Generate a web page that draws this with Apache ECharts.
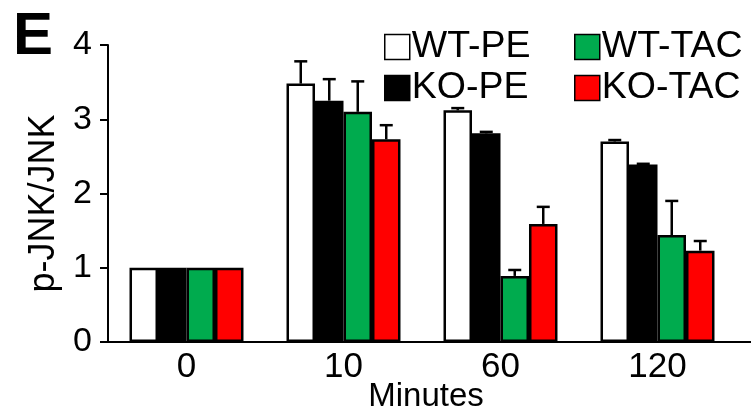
<!DOCTYPE html>
<html>
<head>
<meta charset="utf-8">
<script src="https://cdn.jsdelivr.net/npm/echarts@6/dist/echarts.min.js"></script>
<style>html,body{margin:0;padding:0;background:#fff;}#c{width:755px;height:411px;}</style>
</head>
<body>
<div id="c"></div>
<script>
var categories = ['0', '10', '60', '120'];
var seriesNames = ['WT-PE', 'KO-PE', 'WT-TAC', 'KO-TAC'];
var wtPE  = [1, 3.48, 3.12, 2.70];
var koPE  = [1, 3.25, 2.81, 2.39];
var wtTAC = [1, 3.10, 0.89, 1.44];
var koTAC = [1, 2.73, 1.59, 1.23];
var wtPEErr  = [0, 0.30, 0.03, 0.02];
var koPEErr  = [0, 0.29, 0.02, 0.01];
var wtTACErr = [0, 0.41, 0.08, 0.46];
var koTACErr = [0, 0.19, 0.23, 0.13];
var yTicks = [0, 1, 2, 3, 4];

var FONT = "'Liberation Sans', Arial, sans-serif";
var colors = ['#ffffff', '#000000', '#00ab4e', '#ff0000'];
var values = [wtPE, koPE, wtTAC, koTAC];
var errors = [wtPEErr, koPEErr, wtTACErr, koTACErr];
var CAT_GAP = 0.274;

var series = [];
values.forEach(function (vals, si) {
  series.push({
    name: seriesNames[si],
    type: 'bar',
    data: vals,
    barGap: '0%',
    barCategoryGap: (CAT_GAP * 100) + '%',
    itemStyle: { color: colors[si], borderColor: '#000', borderWidth: 2.5 },
    z: 2
  });
});
values.forEach(function (vals, si) {
  var data = vals.map(function (v, i) { return [i, v, errors[si][i]]; });
  series.push({
    type: 'custom',
    data: data,
    z: 3,
    silent: true,
    renderItem: function (params, api) {
      var ci = api.value(0), v = api.value(1), e = api.value(2);
      if (!e) return null;
      var band = api.size([1, 0])[0];
      var bw = band * (1 - CAT_GAP) / 4;
      var base = api.coord([ci, v]);
      var top = api.coord([ci, v + e]);
      var x = base[0] + (si - 1.5) * bw;
      var half = 6.5;
      var st = { stroke: '#000', lineWidth: 2.5 };
      return {
        type: 'group',
        children: [
          { type: 'line', shape: { x1: x, y1: base[1], x2: x, y2: top[1] }, style: st },
          { type: 'line', shape: { x1: x - half, y1: top[1], x2: x + half, y2: top[1] }, style: st }
        ]
      };
    }
  });
});

var legendCommon = {
  orient: 'vertical',
  padding: 0,
  itemWidth: 25,
  itemHeight: 25,
  itemGap: 3,
  icon: 'rect',
  textStyle: { fontFamily: FONT, fontSize: 37.5, color: '#000', padding: [0, 0, 0, -3] },
  itemStyle: { borderColor: '#000', borderWidth: 1.5 }
};

var chart = echarts.init(document.getElementById('c'), null, { renderer: 'canvas' });
chart.setOption({
  animation: false,
  backgroundColor: '#fff',
  title: {
    text: 'E', left: 8, top: 2,
    textStyle: { fontFamily: FONT, fontSize: 60, fontWeight: 'bold', color: '#000' }
  },
  legend: [
    Object.assign({}, legendCommon, { data: ['WT-PE', 'KO-PE'], left: 384, top: 28 }),
    Object.assign({}, legendCommon, { data: ['WT-TAC', 'KO-TAC'], left: 574, top: 28 })
  ],
  grid: { left: 108, right: 19, top: 45, bottom: 69, containLabel: false, outerBoundsMode: 'none' },
  xAxis: {
    type: 'category',
    data: categories,
    name: 'Minutes',
    nameLocation: 'middle',
    nameGap: 38,
    nameMoveOverlap: false,
    nameTextStyle: { fontFamily: FONT, fontSize: 33, color: '#000', padding: [0, 0, 0, 8] },
    axisLine: { lineStyle: { color: '#000', width: 2 } },
    axisTick: { show: false },
    axisLabel: { fontFamily: FONT, fontSize: 35, color: '#000', margin: 8 },
    splitLine: { show: false }
  },
  yAxis: {
    type: 'value',
    min: yTicks[0],
    max: yTicks[yTicks.length - 1],
    interval: 1,
    name: 'p-JNK/JNK',
    nameLocation: 'middle',
    nameGap: 46,
    nameRotate: 90,
    nameMoveOverlap: false,
    nameTextStyle: { fontFamily: FONT, fontSize: 36, color: '#000', padding: [0, 20, 0, 0] },
    axisLine: { show: true, lineStyle: { color: '#000', width: 2 } },
    axisTick: { show: true, length: 8, lineStyle: { color: '#000', width: 2 } },
    axisLabel: { fontFamily: FONT, fontSize: 34, color: '#000', margin: 16 },
    splitLine: { show: false }
  },
  graphic: [{
    type: 'line', shape: { x1: 735, y1: 342, x2: 751, y2: 342 },
    style: { stroke: '#000', lineWidth: 2 }
  }],
  series: series
});
</script>
</body>
</html>
